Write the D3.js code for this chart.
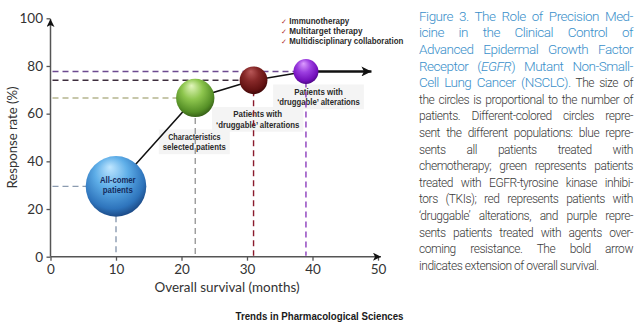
<!DOCTYPE html>
<html><head><meta charset="utf-8">
<script src="https://cdn.jsdelivr.net/npm/d3@7"></script>
<style>
html,body{margin:0;padding:0;background:#fff;}
svg{display:block;}
</style></head>
<body>
<script>
// ---------- data ----------
const groups = ["All-comer patients","Characteristics selected patients","Patients with 'druggable' alterations","Patients with 'druggable' alterations (resistance)"];
const survival = [10, 22.1, 31, 39];        // months
const response = [29.5, 66.6, 74, 77.7];     // %
const patientsRel = [100, 40, 21, 17];       // relative size (circle area)
const labelLines = [["All-comer","patients"],["Characteristics","selected patients"],["Patients with","\u2018druggable\u2019 alterations"],["Patients with","\u2018druggable\u2019 alterations"]];
const xTicks = [0,10,20,30,40,50];
const yTicks = [0,20,40,60,80,100];
const strategies = ["Immunotherapy","Multitarget therapy","Multidisciplinary collaboration"];
const arrowEnd = 49;   // bold arrow end (months)
const captionLines = [
  [["h","Figure 3. The Role of Precision Med-"]],
  [["h","icine in the Clinical Control of"]],
  [["h","Advanced Epidermal Growth Factor"]],
  [["h","Receptor ("],["hi","EGFR"],["h",") Mutant Non-Small-"]],
  [["h","Cell Lung Cancer (NSCLC)."],["b"," The size of"]],
  [["b","the circles is proportional to the number of"]],
  [["b","patients. Different-colored circles repre-"]],
  [["b","sent the different populations: blue repre-"]],
  [["b","sents all patients treated with"]],
  [["b","chemotherapy; green represents patients"]],
  [["b","treated with EGFR-tyrosine kinase inhibi-"]],
  [["b","tors (TKIs); red represents patients with"]],
  [["b","\u2018druggable\u2019 alterations, and purple repre-"]],
  [["b","sents patients treated with agents over-"]],
  [["b","coming resistance. The bold arrow"]],
  [["b","indicates extension of overall survival."]]
];

// ---------- styles ----------
const sphereStops = [
  ["#bfe6ff","#5eaee8","#2e74bc","#173f78"],
  ["#e2f6bc","#8ec64e","#558f26","#2f5414"],
  ["#b85858","#862828","#621212","#360505"],
  ["#dc9cff","#9c3ee0","#7410bc","#440578"]
];
const hColor = ["#8b9bb0","#b5b58e","#3e2e3e","#6c4a90"];
const vColor = ["#8b9bb0","#9a9a9a","#8a1a2c","#8c3cbc"];

const W = 640, H = 330;
const svg = d3.select("body").append("svg").attr("width",W).attr("height",H);
const x = d3.scaleLinear().domain([0,50]).range([50.5,378]);
const y = d3.scaleLinear().domain([0,100]).range([256.7,18.3]);
const r = d3.scaleSqrt().domain([0,100]).range([0,30.3]);

const defs = svg.append("defs");
sphereStops.forEach((st,i)=>{
  const g = defs.append("radialGradient").attr("id","sph"+i)
    .attr("cx","46%").attr("cy","40%").attr("r","64%").attr("fx","40%").attr("fy","18%");
  [0,0.42,0.8,1].forEach((o,k)=>g.append("stop").attr("offset",o).attr("stop-color",st[k]));
});
const mk = (id,w,h)=>defs.append("marker").attr("id",id).attr("viewBox","0 0 10 10").attr("refX",10).attr("refY",5)
   .attr("markerWidth",w).attr("markerHeight",h).attr("markerUnits","userSpaceOnUse").attr("orient","auto")
   .append("path").attr("d","M0,0 L10,5 L0,10 L2.5,5 Z").attr("fill","#111");
mk("axArrow",9,8); mk("boldArrow",12,10);

const chartFont = "Lato, 'Open Sans', sans-serif";
const boldFont = "'Liberation Sans Narrow','Liberation Sans', Arial, sans-serif";

// ---------- axes ----------
const xAxis = svg.append("g").attr("transform",`translate(0,${y(0)})`)
  .call(d3.axisBottom(x).tickValues(xTicks).tickSize(4).tickSizeOuter(0));
const yAxis = svg.append("g").attr("transform",`translate(${x(0)},0)`)
  .call(d3.axisLeft(y).tickValues(yTicks).tickSize(4).tickSizeOuter(0));
[xAxis,yAxis].forEach(a=>{
  a.select(".domain").remove();
  a.selectAll(".tick line").attr("stroke","#555").attr("stroke-width",1.3);
  a.selectAll(".tick text").attr("fill","#333").style("font-family",chartFont).style("font-size","13.5px");
});
xAxis.selectAll(".tick text").attr("y",8);
yAxis.selectAll(".tick text").attr("x",-7.5);
svg.append("line").attr("x1",x(0)).attr("x2",381).attr("y1",y(0)).attr("y2",y(0))
  .attr("stroke","#555").attr("stroke-width",1.5).attr("marker-end","url(#axArrow)");
svg.append("line").attr("x1",x(0)).attr("x2",x(0)).attr("y1",y(0)).attr("y2",19)
  .attr("stroke","#555").attr("stroke-width",1.5).attr("marker-end","url(#axArrow)");

svg.append("text").attr("x",227).attr("y",291.5).attr("text-anchor","middle")
  .style("font-family",chartFont).style("font-size","13.5px").attr("fill","#333")
  .attr("textLength",145).attr("lengthAdjust","spacingAndGlyphs").text("Overall survival (months)");
svg.append("text").attr("transform","translate(17,137.5) rotate(-90)").attr("text-anchor","middle")
  .style("font-family",chartFont).style("font-size","13.5px").attr("fill","#333")
  .attr("textLength",102).attr("lengthAdjust","spacingAndGlyphs").text("Response rate (%)");

// ---------- labels (behind dashed lines) ----------
const labelPos = [
  null,
  {cx:194.3, y0:139.5, w:[52.3,63]},
  {cx:257.7, y0:117, w:[48.7,83.3]},
  {cx:318.5, y0:94.5, w:[48.7,82.7]}
];
const lineGap = 10.7;
labelPos.forEach((p,i)=>{
  if(!p) return;
  const bw = Math.max(...p.w)+8;
  svg.append("rect").attr("x",p.cx-bw/2).attr("y",p.y0-10).attr("width",bw).attr("height",lineGap+14)
    .attr("fill","#f4f4f4");
  labelLines[i].forEach((t,k)=>{
    svg.append("text").attr("x",p.cx).attr("y",p.y0+k*lineGap).attr("text-anchor","middle")
      .style("font-family",boldFont).style("font-weight","bold").style("font-size","9.5px").attr("fill","#2a2a2a")
      .attr("textLength",p.w[k]).attr("lengthAdjust","spacingAndGlyphs").text(t);
  });
});

// ---------- dashed reference lines ----------
survival.forEach((s,i)=>{
  const endX = i===3 ? x(s) : x(s)-r(patientsRel[i])+2;
  svg.append("line").attr("x1",x(0)+2).attr("x2",endX).attr("y1",y(response[i])).attr("y2",y(response[i]))
    .attr("stroke",hColor[i]).attr("stroke-width",1.4).attr("stroke-dasharray","6,4");
  svg.append("line").attr("x1",x(s)).attr("x2",x(s)).attr("y1",y(response[i])).attr("y2",y(0)-1)
    .attr("stroke",vColor[i]).attr("stroke-width",1.4).attr("stroke-dasharray","6,4");
});

// ---------- connecting line + bold arrow ----------
svg.append("path").datum(d3.range(survival.length))
  .attr("d",d3.line().x(i=>x(survival[i])).y(i=>y(response[i])))
  .attr("fill","none").attr("stroke","#111").attr("stroke-width",1.5);
svg.append("line").attr("x1",x(survival[3])).attr("x2",x(arrowEnd)).attr("y1",y(response[3])).attr("y2",y(response[3]))
  .attr("stroke","#111").attr("stroke-width",2.6).attr("marker-end","url(#boldArrow)");

// ---------- spheres ----------
svg.selectAll("circle.sph").data(d3.range(survival.length)).join("circle").attr("class","sph")
  .attr("cx",i=>x(survival[i])).attr("cy",i=>y(response[i])).attr("r",i=>r(patientsRel[i]))
  .attr("fill",i=>`url(#sph${i})`);

// label inside blue sphere
labelLines[0].forEach((t,k)=>{
  svg.append("text").attr("x",117.8).attr("y",182.8+k*10.5).attr("text-anchor","middle")
    .style("font-family",boldFont).style("font-weight","bold").style("font-size","9.5px").attr("fill","#142a5c")
    .attr("textLength",k?30:35.7).attr("lengthAdjust","spacingAndGlyphs").text(t);
});

// ---------- strategies list ----------
const stratW = [60,73.3,114];
strategies.forEach((t,k)=>{
  const yy = 23.5+k*10;
  svg.append("text").attr("x",281).attr("y",yy).style("font-family","'DejaVu Sans',sans-serif")
    .style("font-size","7px").attr("fill","#b03030").text("\u2713");
  svg.append("text").attr("x",289.3).attr("y",yy).style("font-family",boldFont).style("font-weight","bold")
    .style("font-size","9px").attr("fill","#2a2a2a")
    .attr("textLength",stratW[k]).attr("lengthAdjust","spacingAndGlyphs").text(t);
});

// ---------- source ----------
svg.append("text").attr("x",403.5).attr("y",320).attr("text-anchor","end")
  .style("font-family","'Liberation Sans',Arial,sans-serif").style("font-weight","bold").style("font-size","10.5px")
  .attr("fill","#1a1a1a").attr("textLength",168).attr("lengthAdjust","spacingAndGlyphs")
  .text("Trends in Pharmacological Sciences");

// ---------- caption ----------
const capX = 419, capW = 214, capY0 = 20.7, capDY = 16.6;
const capStyle = {
  h:{fill:"#3a8fca", size:13.5, ls:-0.5, italic:false},
  hi:{fill:"#3a8fca", size:13.5, ls:-0.5, italic:true},
  b:{fill:"#3a3a3a", size:12, ls:-0.45, italic:false}
};
const capFont = "Roboto, Lato, 'Liberation Sans', sans-serif";
captionLines.forEach((segs,i)=>{
  const t = svg.append("text").attr("x",capX).attr("y",capY0+i*capDY)
    .style("font-family",capFont).style("font-weight","300").attr("xml:space","preserve");
  segs.forEach(([k,s])=>{
    const st = capStyle[k];
    t.append("tspan").text(s).attr("fill",st.fill).style("font-size",st.size+"px")
      .style("font-style",st.italic?"italic":"normal").attr("letter-spacing",st.ls).attr("data-ls",st.ls);
  });
  let nat = t.node().getComputedTextLength();
  const txt = segs.map(d=>d[1]).join("");
  if (nat > capW) {
    const d = (capW - nat)/txt.length;
    t.selectAll("tspan").each(function(){ this.setAttribute("letter-spacing", (+this.getAttribute("data-ls"))+d); });
    nat = t.node().getComputedTextLength();
  }
  const spaces = (txt.match(/ /g)||[]).length;
  if (i < captionLines.length-1 && spaces>0) t.attr("word-spacing",(capW-nat)/spaces);
});
</script>
</body></html>
